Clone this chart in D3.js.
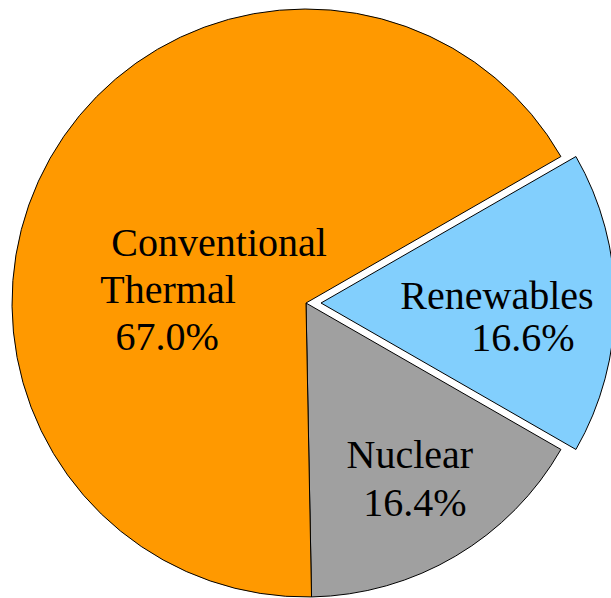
<!DOCTYPE html>
<html>
<head>
<meta charset="utf-8">
<script src="https://cdn.jsdelivr.net/npm/d3@7"></script>
</head>
<body style="margin:0;padding:0;background:#fff">
<svg id="chart" width="611" height="598" style="display:block"></svg>
<script>
// Data (order drawn clockwise starting at the Renewables slice)
const categories = ["Renewables", "Nuclear", "Conventional Thermal"];
const values = [16.6, 16.4, 67.0];
const colors = ["#82cffd", "#a0a0a0", "#ff9900"];
const labelLines = [["Renewables", "16.6%"], ["Nuclear", "16.4%"], ["Conventional", "Thermal", "67.0%"]];
// per-line offsets of label lines relative to slice centroid
const labelOffsets = [
  [[29, 6], [55, 48]],
  [[29, 38], [34, 86]],
  [[41, 25], [-10, 72], [-11, 119]]
];
const explode = [15, 0, 0];

const width = 611, height = 598;
const cx = 306, cy = 303, radius = 294;

const svg = d3.select("#chart");
const g = svg.append("g").attr("transform", `translate(${cx},${cy})`);

const total = d3.sum(values);
const firstAngle = Math.PI / 2 - (values[0] / total) * Math.PI; // Renewables bisector at 3 o'clock

const pie = d3.pie().sort(null).value(d => d)
  .startAngle(firstAngle).endAngle(firstAngle + 2 * Math.PI);
const arcs = pie(values);
const arc = d3.arc().innerRadius(0).outerRadius(radius);

const slices = g.selectAll("g.slice").data(arcs).enter().append("g")
  .attr("class", "slice")
  .attr("transform", (d, i) => {
    const mid = (d.startAngle + d.endAngle) / 2;
    return `translate(${Math.sin(mid) * explode[i]},${-Math.cos(mid) * explode[i]})`;
  });

slices.append("path")
  .attr("d", arc)
  .attr("fill", (d, i) => colors[i])
  .attr("stroke", "#000")
  .attr("stroke-width", 1)
  .attr("stroke-linejoin", "miter");

slices.each(function(d, i) {
  const c = arc.centroid(d);
  const sel = d3.select(this);
  labelLines[i].forEach((line, j) => {
    sel.append("text")
      .attr("x", c[0] + labelOffsets[i][j][0])
      .attr("y", c[1] + labelOffsets[i][j][1])
      .attr("text-anchor", "middle")
      .style("font-family", '"Liberation Serif"')
      .style("font-size", "40px")
      .attr("fill", "#000")
      .text(line);
  });
});
</script>
</body>
</html>
